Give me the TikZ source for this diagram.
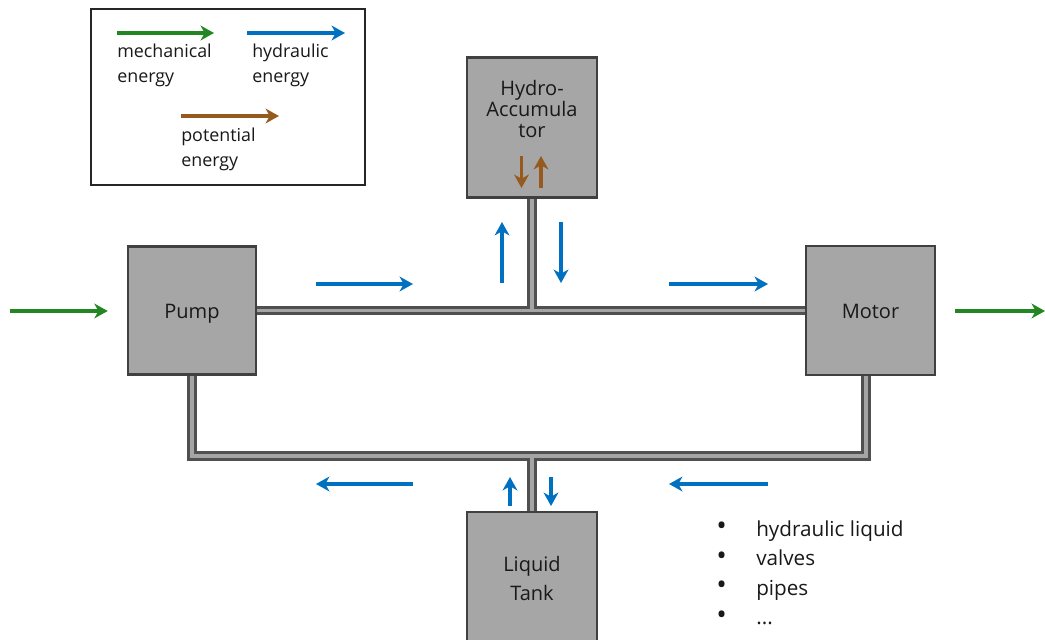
\documentclass[tikz,border=0pt]{standalone}
\usepackage{fontspec}
\setmainfont{Open Sans}
\usetikzlibrary{arrows.meta}
\definecolor{mgreen}{RGB}{34,135,34}
\definecolor{hblue}{RGB}{0,112,192}
\definecolor{pbrown}{RGB}{150,90,30}
\definecolor{boxgray}{RGB}{166,166,166}
\definecolor{boxedge}{RGB}{64,64,64}
\definecolor{pipeout}{RGB}{80,80,80}
\definecolor{pipein}{RGB}{165,165,165}
\newcommand{\bigbul}{\makebox[30pt][l]{\raisebox{0.5pt}{\fontsize{21}{21}\selectfont\textbullet}}}
\begin{document}
\begin{tikzpicture}[x=0.75pt,y=-0.75pt,
  energy/.style={line width=2.3pt,-{Stealth[length=10pt,width=11pt,inset=3pt]}},
  mech/.style={energy,draw=mgreen},
  hyd/.style={energy,draw=hblue},
  pot/.style={energy,draw=pbrown},
  comp/.style={draw=boxedge,fill=boxgray,line width=1.7pt,inner sep=0pt},
  lbl/.style={font=\fontsize{15}{18}\selectfont,align=center,inner sep=0pt,text=black!90},
  leg/.style={font=\fontsize{13.4}{18.75}\selectfont,align=left,inner sep=0pt,anchor=west,text=black!90},
  pipeo/.style={draw=pipeout,line width=7pt},
  pipei/.style={draw=pipein,line width=2.4pt},
]
\useasboundingbox (0,0) rectangle (1045,639);

% legend
\node[draw=black!85,line width=1.2pt,fill=white,minimum width=205.5pt,minimum height=132pt,inner sep=0pt] (legend) at (228,97) {};
\coordinate (lg1) at (117,33);  \coordinate (lg2) at (214,33);
\coordinate (lb1) at (247,33);  \coordinate (lb2) at (345,33);
\coordinate (lp1) at (181,116); \coordinate (lp2) at (279,116);
\draw[mech] (lg1) -- (lg2);
\draw[hyd] (lb1) -- (lb2);
\draw[pot] (lp1) -- (lp2);
\node[leg] (tmech) at (117,65) {mechanical\\energy};
\node[leg] (thyd) at (252,65) {hydraulic\\energy};
\node[leg] (tpot) at (181,149) {potential\\energy};

\coordinate (bl) at (192,456);
\coordinate (br) at (866,456);

% component anchors
\path (192,310.5) node[minimum width=96pt,minimum height=96pt,inner sep=0pt] (pump) {};
\path (870.5,310.5) node[minimum width=96.75pt,minimum height=96.75pt,inner sep=0pt] (motor) {};
\path (532,127.5) node[minimum width=97.5pt,minimum height=105pt,inner sep=0pt] (acc) {};
\path (532,578) node[minimum width=97.5pt,minimum height=99pt,inner sep=0pt] (tank) {};

% pipes
\draw[pipeo] (pump.east) -- (motor.west);
\draw[pipeo] (acc.south) -- (acc.south |- pump.east);
\draw[pipeo] (pump.south) -- (bl) -- (br) -- (br |- motor.south);
\draw[pipeo] (tank.north) -- (tank.north |- bl);
\draw[pipei] (pump.east) -- (motor.west);
\draw[pipei] (acc.south) -- (acc.south |- pump.east);
\draw[pipei] (pump.south) -- (bl) -- (br) -- (br |- motor.south);
\draw[pipei] (tank.north) -- (tank.north |- bl);

% boxes drawn on top
\node[comp,minimum width=96pt,minimum height=96pt] (pumpbox) at (pump) {};
\node[comp,minimum width=96.75pt,minimum height=96.75pt] (motorbox) at (motor) {};
\node[comp,minimum width=97.5pt,minimum height=105pt] (accbox) at (acc) {};
\node[comp,minimum width=97.5pt,minimum height=99pt] (tankbox) at (tank) {};
\node[lbl] (tpump) at (192,313.5) {Pump};
\node[lbl] (tmotor) at (870.5,311) {Motor};
\node[lbl,font=\fontsize{15}{15.5}\selectfont] (tacc) at (532,109) {Hydro-\\Accumula\\tor};
\node[lbl,font=\fontsize{15}{21.75}\selectfont] (ttank) at (532,578.5) {Liquid\\Tank};

% potential energy arrows in accumulator
\coordinate (pd1) at (521.5,156); \coordinate (pd2) at (521.5,188);
\coordinate (pu1) at (541,188);   \coordinate (pu2) at (541,156);
\draw[pot] (pd1) -- (pd2);
\draw[pot] (pu1) -- (pu2);

% mechanical energy in / out
\coordinate (min) at (10,311);
\coordinate (mout) at (1045,311);
\draw[mech,shorten >=15pt] (min) -- (pump.west |- min);
\draw[mech,shorten <=15pt] (motor.east |- mout) -- (mout);

% hydraulic energy arrows
\coordinate (h1a) at (316,284); \coordinate (h1b) at (413,284);
\coordinate (h2a) at (669,284); \coordinate (h2b) at (768,284);
\coordinate (h3a) at (502,283); \coordinate (h3b) at (502,222);
\coordinate (h4a) at (561,222); \coordinate (h4b) at (561,283);
\coordinate (h5a) at (413,484); \coordinate (h5b) at (316,484);
\coordinate (h6a) at (768,484); \coordinate (h6b) at (669,484);
\coordinate (h7a) at (510,506); \coordinate (h7b) at (510,477);
\coordinate (h8a) at (551,477); \coordinate (h8b) at (551,506);
\draw[hyd] (h1a) -- (h1b);
\draw[hyd] (h2a) -- (h2b);
\draw[hyd] (h3a) -- (h3b);
\draw[hyd] (h4a) -- (h4b);
\draw[hyd] (h5a) -- (h5b);
\draw[hyd] (h6a) -- (h6b);
\draw[hyd] (h7a) -- (h7b);
\draw[hyd] (h8a) -- (h8b);

% bullet list
\node[anchor=west,align=left,inner sep=0pt,text=black!90,font=\fontsize{15.5}{22.1}\selectfont] (extras) at (716,573)
  {\bigbul hydraulic liquid\\
   \bigbul valves\\
   \bigbul pipes\\
   \bigbul ...};
\end{tikzpicture}
\end{document}
